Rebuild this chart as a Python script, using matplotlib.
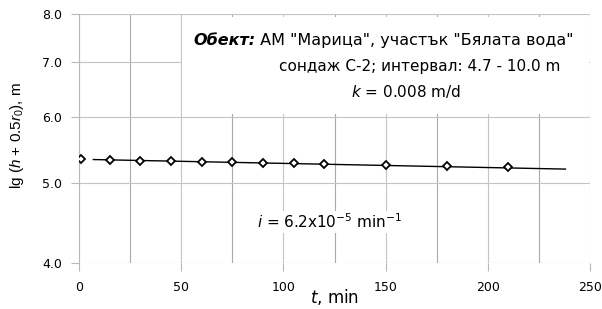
import matplotlib
matplotlib.use("Agg")
import matplotlib.pyplot as plt
from matplotlib.patches import Rectangle
from matplotlib.ticker import FixedLocator, NullFormatter

plt.rcParams['font.family'] = ['DejaVu Sans']
plt.rcParams['mathtext.fontset'] = 'dejavusans'
plt.rcParams['mathtext.rm'] = 'Liberation Sans'
plt.rcParams['mathtext.it'] = 'Liberation Sans:italic'

# измервания: време (min) и lg(h + 0.5 r0)
t_min = [1, 15, 30, 45, 60, 75, 90, 105, 120, 150, 180, 210]
lg_h = [5.34, 5.33, 5.32, 5.31, 5.30, 5.295, 5.29, 5.28, 5.27, 5.25, 5.24, 5.22]

# права на апроксимация (крайни точки)
fit_t = [7, 238]
fit_y = [5.335, 5.195]

x_ticks = [0, 50, 100, 150, 200, 250]
x_minor = [25, 75, 125, 175, 225]
y_ticks = [4.0, 5.0, 6.0, 7.0, 8.0]
y_labels = ['4.0', '5.0', '6.0', '7.0', '8.0']

fig = plt.figure(figsize=(6.02, 3.09), dpi=100)
ax = fig.add_axes([79 / 602, 1 - 263 / 309, 511 / 602, 249 / 309])

ax.set_yscale('log')
ax.set_xlim(0, 250)
ax.set_ylim(4.0, 8.0)

ax.set_xticks(x_ticks)
ax.xaxis.set_minor_locator(FixedLocator(x_minor))
ax.set_yticks(y_ticks)
ax.set_yticklabels(y_labels)
ax.yaxis.set_minor_locator(FixedLocator([]))
ax.yaxis.set_minor_formatter(NullFormatter())

ax.grid(True, which='major', axis='x', color='#c4c4c4', lw=0.8)
ax.grid(True, which='minor', axis='x', color='#a8a8a8', lw=0.8)
ax.grid(True, which='major', axis='y', color='#c4c4c4', lw=0.8)
ax.set_axisbelow(True)

for s in ['top', 'right', 'bottom']:
    ax.spines[s].set_visible(False)
ax.spines['left'].set_color('#b8b8b8')
ax.spines['left'].set_linewidth(0.8)
ax.tick_params(axis='both', which='major', length=6, width=0.8,
               color='#b8b8b8', labelsize=9, labelcolor='black')
ax.tick_params(axis='x', which='minor', length=0)
ax.tick_params(axis='x', pad=7)
ax.tick_params(axis='y', pad=6)

# бял фон под надписите
ax.add_patch(Rectangle((50.4, 6.05), 199.2, 1.88, facecolor='white',
                       edgecolor='none', zorder=1))

ax.plot(fit_t, fit_y, color='black', lw=1, zorder=3)
ax.plot(t_min, lg_h, linestyle='none', marker='D', markersize=4,
        markerfacecolor='white', markeredgecolor='black', markeredgewidth=1.3,
        zorder=4)

fs = 11
t1 = ax.text(0.223, 0.893, 'Обект:', transform=ax.transAxes, fontsize=11.5,
             fontweight='bold', fontstyle='italic', ha='left', va='center',
             zorder=5)
ax.annotate(' АМ "Марица", участък "Бялата вода"', xy=(1, 0.5), xycoords=t1,
            fontsize=11.5, ha='left', va='center', zorder=5)
ax.text(0.666, 0.79, 'сондаж С-2; интервал: 4.7 - 10.0 m',
        transform=ax.transAxes, fontsize=fs, ha='center', va='center',
        zorder=5)
ax.text(0.64, 0.69, '$k$ = 0.008 m/d', transform=ax.transAxes,
        fontsize=fs, ha='center', va='center', zorder=5)
ax.text(0.49, 0.165, '$i$ = 6.2x10$^{-5}$ min$^{-1}$',
        transform=ax.transAxes, fontsize=fs, ha='center', va='center',
        zorder=5, bbox=dict(facecolor='white', edgecolor='none', pad=1))

ax.set_xlabel('$t$, min', fontsize=12)
ax.xaxis.set_label_coords(0.5, -0.095)
ax.set_ylabel('lg ($h$ + 0.5$r_0$), m', fontsize=11, family='Liberation Sans',
              math_fontfamily='custom')
ax.yaxis.set_label_coords(-0.104, 0.51)

fig.savefig('out.png', dpi=100)
